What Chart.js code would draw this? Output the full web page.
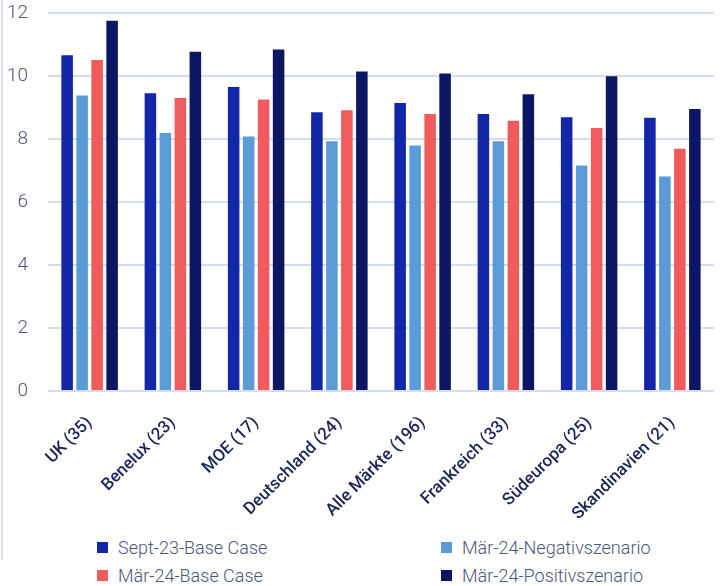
<!DOCTYPE html>
<html lang="de">
<head>
<meta charset="utf-8">
<script src="https://cdn.jsdelivr.net/npm/chart.js@4"></script>
<style>
    html, body { margin: 0; padding: 0; background: #fff; }
    #wrap { position: relative; width: 721px; height: 586px; overflow: hidden; }
    #edge { position: absolute; left: 1px; top: 0; width: 2px; height: 560px; background: #DCE4F4; }
    #box { position: absolute; left: 0; top: -18px; width: 721px; height: 548px; }
    #legend {
        position: absolute; left: 97px; top: 536px; width: 620px;
        display: grid; grid-template-columns: 344px 1fr; row-gap: 6px;
        font-family: Roboto, "Noto Sans", sans-serif; font-weight: 300;
        font-size: 18px; color: #4D5578;
    }
    #legend .item { display: flex; align-items: center; height: 22px; }
    #legend .sw { width: 11px; height: 11px; margin-right: 10px; }
</style>
</head>
<body>
<div id="wrap">
    <div id="edge"></div>
    <div id="box"><canvas id="chart"></canvas></div>
    <div id="legend"></div>
</div>
<script>
// Regionen (Anzahl Objekte in Klammern)
const regions = ['UK (35)', 'Benelux (23)', 'MOE (17)', 'Deutschland (24)', 'Alle Märkte (196)', 'Frankreich (33)', 'Südeuropa (25)', 'Skandinavien (21)'];

const sept23Base = [10.67, 9.46, 9.66, 8.86, 9.15, 8.80, 8.70, 8.68];
const maer24Negativ = [9.39, 8.20, 8.09, 7.94, 7.80, 7.94, 7.17, 6.82];
const maer24Base = [10.52, 9.31, 9.26, 8.92, 8.80, 8.59, 8.36, 7.70];
const maer24Positiv = [11.77, 10.78, 10.85, 10.15, 10.09, 9.43, 10.00, 8.96];

const yTicks = [0, 2, 4, 6, 8, 10, 12];

const series = [
    { label: 'Sept-23-Base Case', data: sept23Base, color: '#1226A8' },
    { label: 'Mär-24-Negativszenario', data: maer24Negativ, color: '#5B9BD7' },
    { label: 'Mär-24-Base Case', data: maer24Base, color: '#F05B5C' },
    { label: 'Mär-24-Positivszenario', data: maer24Positiv, color: '#0C1665' },
];

const family = 'Roboto, "Noto Sans", sans-serif';

new Chart(document.getElementById('chart'), {
    type: 'bar',
    data: {
        labels: regions,
        datasets: series.map((s) => ({
            label: s.label,
            data: s.data,
            backgroundColor: s.color,
            borderWidth: 0,
            categoryPercentage: 0.72,
            barPercentage: 0.77,
        })),
    },
    options: {
        responsive: true,
        maintainAspectRatio: false,
        animation: false,
        layout: { padding: { left: 4, right: 7, top: 0, bottom: 0 } },
        plugins: {
            legend: { display: false },
            tooltip: { enabled: false },
        },
        scales: {
            x: {
                grid: { display: false },
                border: { display: false },
                ticks: {
                    color: '#1B2457',
                    font: { family, size: 17, weight: 500 },
                    minRotation: 45,
                    maxRotation: 45,
                    padding: 14,
                },
                afterFit: (scale) => { scale.height = 139; },
            },
            y: {
                min: 0,
                max: 12,
                afterBuildTicks: (scale) => { scale.ticks = yTicks.map((v) => ({ value: v })); },
                grid: { color: '#D5DDF1', lineWidth: 2, drawTicks: false },
                border: { display: false },
                ticks: {
                    color: '#4D5578',
                    font: { family, size: 19, weight: 300 },
                    padding: 20,
                },
                afterFit: (scale) => { scale.width = 44; },
            },
        },
    },
});

// Legende in zwei Spalten
const legend = document.getElementById('legend');
series.forEach((s) => {
    const item = document.createElement('div');
    item.className = 'item';
    item.innerHTML = `<span class="sw" style="background:${s.color}"></span><span>${s.label}</span>`;
    legend.appendChild(item);
});
</script>
</body>
</html>
